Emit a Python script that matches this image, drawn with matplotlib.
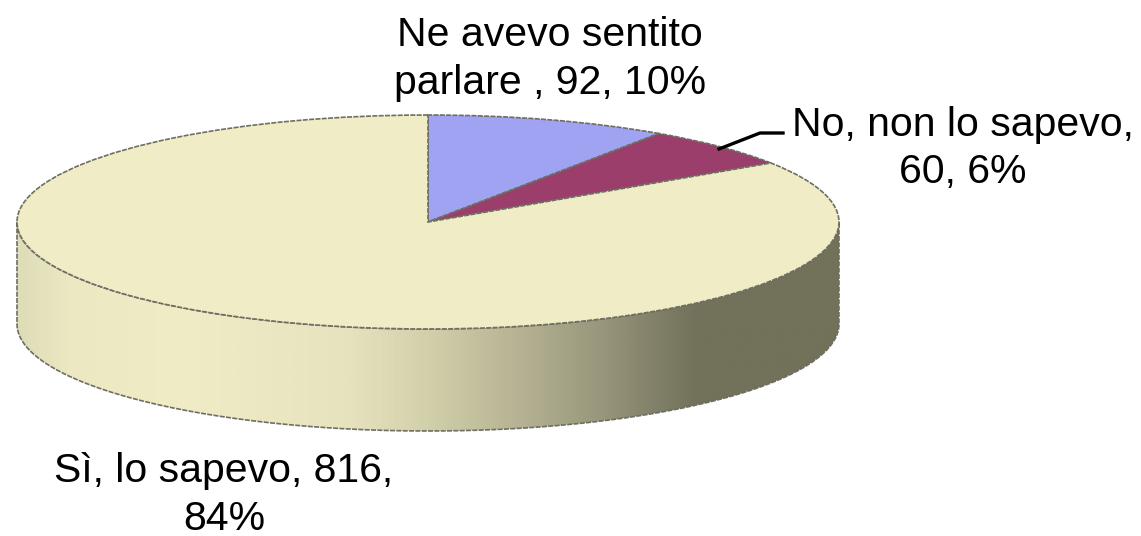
import numpy as np
from matplotlib import pyplot as plt
from matplotlib.colors import LinearSegmentedColormap
from matplotlib.patches import PathPatch
from matplotlib.path import Path

labels = ['Ne avevo sentito\nparlare , 92, 10%', 'No, non lo sapevo,\n60, 6%', 'Sì, lo sapevo, 816,\n84%']
values = [92, 60, 816]
colors = ['#A0A2F2', '#9C3E6C', '#F0ECC6']

# shading of the rim from left to right
shadeStops = [0.0, 0.06, 0.2, 0.4, 0.5, 0.6, 0.7, 0.8, 0.83, 1.0]
shadeColors = ['#DEDDB8', '#EBE8C2', '#EFECC6', '#E6E3BE', '#D2CFAB', '#B8B695', '#9C9A7E', '#7A7962', '#727159', '#727159']

WIDTH, HEIGHT = 1141, 536
CX, CY, RX, RY = 428, 222, 411, 107
DEPTH = 102 / RY
EDGE = '#6e6e62'

plt.rcParams['font.family'] = ['Liberation Sans', 'DejaVu Sans']

fig = plt.figure(figsize=(WIDTH / 100, HEIGHT / 100), dpi=100)
ax = fig.add_axes([0, 0, 1, 1])

# the pie is a unit circle, the axis limits squash it into the ellipse
ax.pie(values, colors=colors, startangle=90, counterclock=False, radius=1,
       wedgeprops={'edgecolor': EDGE, 'linewidth': 1.2, 'linestyle': (0, (3, 0.8)), 'zorder': 3})
ax.set_aspect('auto')

t = np.linspace(np.pi, 2 * np.pi, 200)
xs = np.cos(t)
ys = np.sin(t)
rimX = np.concatenate([xs, xs[::-1], xs[:1]])
rimY = np.concatenate([ys, ys[::-1] - DEPTH, ys[:1]])
rim = PathPatch(Path(np.column_stack([rimX, rimY])), facecolor='none', edgecolor=EDGE,
                linewidth=1.2, linestyle=(0, (3, 0.8)), zorder=2)
ax.add_patch(rim)

cmap = LinearSegmentedColormap.from_list('rim', list(zip(shadeStops, shadeColors)))
shade = ax.imshow(np.linspace(0, 1, 400).reshape(1, -1), cmap=cmap, aspect='auto',
                  extent=(-1, 1, -1 - DEPTH, 0), zorder=1)
shade.set_clip_path(rim)

ax.set_xlim(-CX / RX, (WIDTH - CX) / RX)
ax.set_ylim((CY - HEIGHT) / RY, CY / RY)
ax.axis('off')

# labels are placed in pixels of the picture
fs = 29.5
ls = 1.3
fig.text(550 / WIDTH, 1 - 59 / HEIGHT, labels[0], ha='center', va='center', fontsize=fs, linespacing=ls)
fig.text(963 / WIDTH, 1 - 149 / HEIGHT, labels[1], ha='center', va='center', fontsize=fs, linespacing=ls)
fig.text(224 / WIDTH, 1 - 495 / HEIGHT, labels[2], ha='center', va='center', fontsize=fs, linespacing=ls)

fig.add_artist(plt.Line2D([719 / WIDTH, 760 / WIDTH, 783 / WIDTH],
                          [1 - 149 / HEIGHT, 1 - 133 / HEIGHT, 1 - 133 / HEIGHT],
                          color='black', linewidth=2.4))

fig.savefig('out.png', dpi=100)
